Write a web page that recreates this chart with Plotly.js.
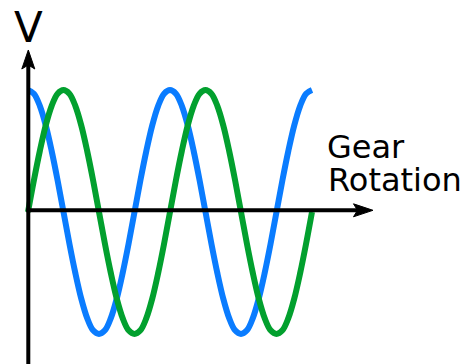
<!DOCTYPE html>
<html>
<head>
<meta charset="utf-8">
<script src="https://cdn.plot.ly/plotly-3.0.1.min.js"></script>
<style>html,body{margin:0;padding:0;background:#fff;}#chart{width:464px;height:364px;}</style>
</head>
<body>
<div id="chart"></div>
<script>
// Gear rotation angle (degrees)
const angle = [0,15,30,45,60,75,90,105,120,135,150,165,180,195,210,225,240,255,270,285,300,315,330,345,360,
               375,390,405,420,435,450,465,480,495,510,525,540,555,570,585,600,615,630,645,660,675,690,705,720];
// Blue series (starts at its peak)
const blueV = [1,0.97,0.87,0.71,0.5,0.26,0,-0.26,-0.5,-0.71,-0.87,-0.97,-1,-0.97,-0.87,-0.71,-0.5,-0.26,0,0.26,0.5,0.71,0.87,0.97,1,
               0.97,0.87,0.71,0.5,0.26,0,-0.26,-0.5,-0.71,-0.87,-0.97,-1,-0.97,-0.87,-0.71,-0.5,-0.26,0,0.26,0.5,0.71,0.87,0.97,1];
// Green series (starts at zero)
const greenV = [0,0.26,0.5,0.71,0.87,0.97,1,0.97,0.87,0.71,0.5,0.26,0,-0.26,-0.5,-0.71,-0.87,-0.97,-1,-0.97,-0.87,-0.71,-0.5,-0.26,0,
                0.26,0.5,0.71,0.87,0.97,1,0.97,0.87,0.71,0.5,0.26,0,-0.26,-0.5,-0.71,-0.87,-0.97,-1,-0.97,-0.87,-0.71,-0.5,-0.26,0];
const yLabel = "V";
const xLabelLines = ["Gear", "Rotation"];

const W = 464, H = 364;
// pixel helpers (plot area = whole canvas, margins 0)
const px = v => v / W, py = v => 1 - v / H;
const x0px = 28, x720px = 312, zeroPx = 212, ampPx = 122;
const dx = 720 / (x720px - x0px);
const xRange = [-x0px * dx, (W - x0px) * dx];
const yRange = [-(H - zeroPx) / ampPx, zeroPx / ampPx];

const blue = '#0a7cff', green = '#02a02e';
const traces = [
  {x: angle, y: blueV, mode: 'lines', line: {color: blue, width: 6, shape: 'spline', smoothing: 1}, hoverinfo: 'skip'},
  {x: angle, y: greenV, mode: 'lines', line: {color: green, width: 6, shape: 'spline', smoothing: 1}, hoverinfo: 'skip'}
];

function pathP(pts){
  return 'M' + pts.map(p => px(p[0]).toFixed(5) + ',' + py(p[1]).toFixed(5)).join('L') + 'Z';
}
const axY = 28.3, axX = 210.3;
const shapes = [
  {type: 'line', xref: 'paper', yref: 'paper', x0: px(axY), x1: px(axY), y0: py(H+2), y1: py(62), line: {color: '#000', width: 4}},
  {type: 'line', xref: 'paper', yref: 'paper', x0: px(26.3), x1: px(362), y0: py(axX), y1: py(axX), line: {color: '#000', width: 4}},
  {type: 'path', xref: 'paper', yref: 'paper', path: pathP([[axY,50],[axY+6.5,69],[axY,65],[axY-6.5,69]]), fillcolor: '#000', line: {color: '#000', width: 1}},
  {type: 'path', xref: 'paper', yref: 'paper', path: pathP([[373,axX],[353.5,axX-6.5],[357.5,axX],[353.5,axX+6.5]]), fillcolor: '#000', line: {color: '#000', width: 1}}
];

const font = 'DejaVu Sans';
const annotations = [
  {xref: 'paper', yref: 'paper', x: px(28.5), y: py(27.5), xanchor: 'center', yanchor: 'middle', text: yLabel, showarrow: false, font: {family: font, size: 42, color: '#000'}},
  {xref: 'paper', yref: 'paper', x: px(324.5), y: py(147), xanchor: 'left', yanchor: 'middle', text: xLabelLines[0], showarrow: false, font: {family: font, size: 32, color: '#000'}},
  {xref: 'paper', yref: 'paper', x: px(325.5), y: py(180), xanchor: 'left', yanchor: 'middle', text: xLabelLines[1], showarrow: false, font: {family: font, size: 32, color: '#000'}}
];

const layout = {
  width: W, height: H,
  margin: {l: 0, r: 0, t: 0, b: 0, pad: 0},
  paper_bgcolor: '#fff', plot_bgcolor: '#fff',
  showlegend: false,
  xaxis: {range: xRange, visible: false, fixedrange: true},
  yaxis: {range: yRange, visible: false, fixedrange: true},
  shapes: shapes,
  annotations: annotations
};
Plotly.newPlot('chart', traces, layout, {staticPlot: true, displayModeBar: false});
</script>
</body>
</html>
